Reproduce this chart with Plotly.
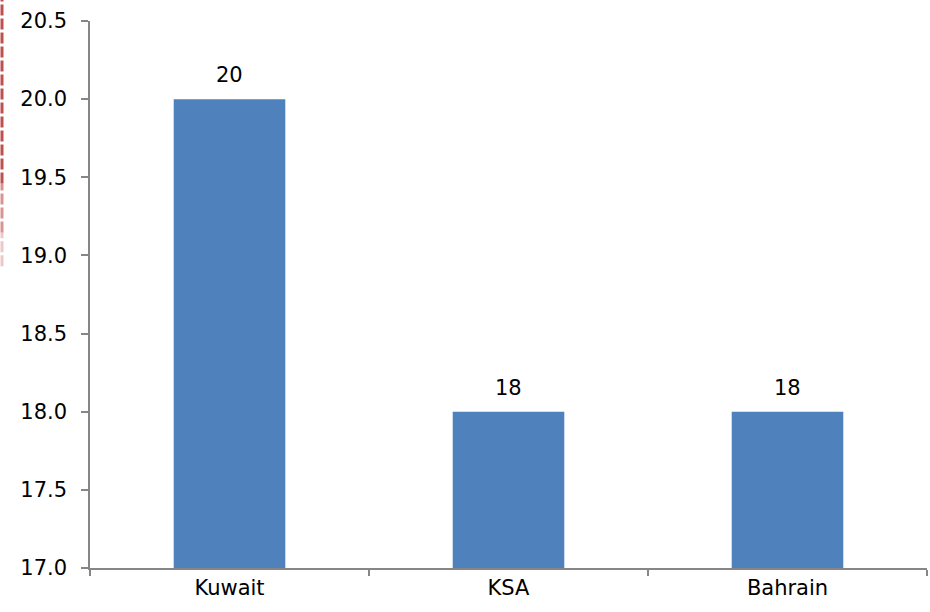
import plotly.graph_objects as go

categories = ["Kuwait", "KSA", "Bahrain"]
values = [20, 18, 18]
labels = ["20", "18", "18"]
y_ticks = [17.0, 17.5, 18.0, 18.5, 19.0, 19.5, 20.0, 20.5]
y_base = 17

FONT = "Tahoma, DejaVu Sans, Verdana, sans-serif"
AXIS = "#868686"
FS = 21

fig = go.Figure(
    go.Bar(
        x=categories,
        y=[v - y_base for v in values],
        base=y_base,
        marker=dict(color="#4F81BD", line=dict(width=0)),
        hoverinfo="skip",
    )
)

for c, v, t in zip(categories, values, labels):
    fig.add_annotation(
        x=c, y=v, text=t, showarrow=False,
        yanchor="bottom", yshift=10,
        font=dict(family=FONT, size=FS, color="#000000"),
    )

fig.update_layout(
    width=930,
    height=612,
    margin=dict(l=90, r=3, t=21, b=44),
    paper_bgcolor="white",
    plot_bgcolor="white",
    bargap=0.6,
    showlegend=False,
    font=dict(family=FONT, size=FS, color="#000000"),
)
fig.update_xaxes(
    showgrid=False,
    showline=True,
    linecolor=AXIS,
    linewidth=1.5,
    ticks="outside",
    tickson="boundaries",
    ticklen=6,
    tickcolor=AXIS,
    tickwidth=1.5,
    tickfont=dict(family=FONT, size=FS),
)
fig.update_yaxes(
    range=[17, 20.5],
    tickvals=y_ticks,
    ticktext=[f"{v:.1f}" for v in y_ticks],
    showgrid=False,
    zeroline=False,
    showline=True,
    linecolor=AXIS,
    linewidth=1.5,
    ticks="outside",
    ticklen=7,
    tickcolor=AXIS,
    tickwidth=1.5,
    ticklabelstandoff=10,
    tickfont=dict(family=FONT, size=FS),
)

# red dashed border artifact on the left edge, fading downward
segs = [(0, 0.30, 1.0), (0.30, 0.38, 0.6), (0.38, 0.435, 0.3)]
for y0, y1, op in segs:
    fig.add_shape(
        type="line", xref="paper", yref="paper",
        x0=-88 / 837, x1=-88 / 837,
        y0=1 + 21 / 547 - y1 * 612 / 547, y1=1 + 21 / 547 - y0 * 612 / 547,
        line=dict(color="#C0504D", width=3, dash="11px,3px"),
        opacity=op,
    )

fig.write_html("out.html")
